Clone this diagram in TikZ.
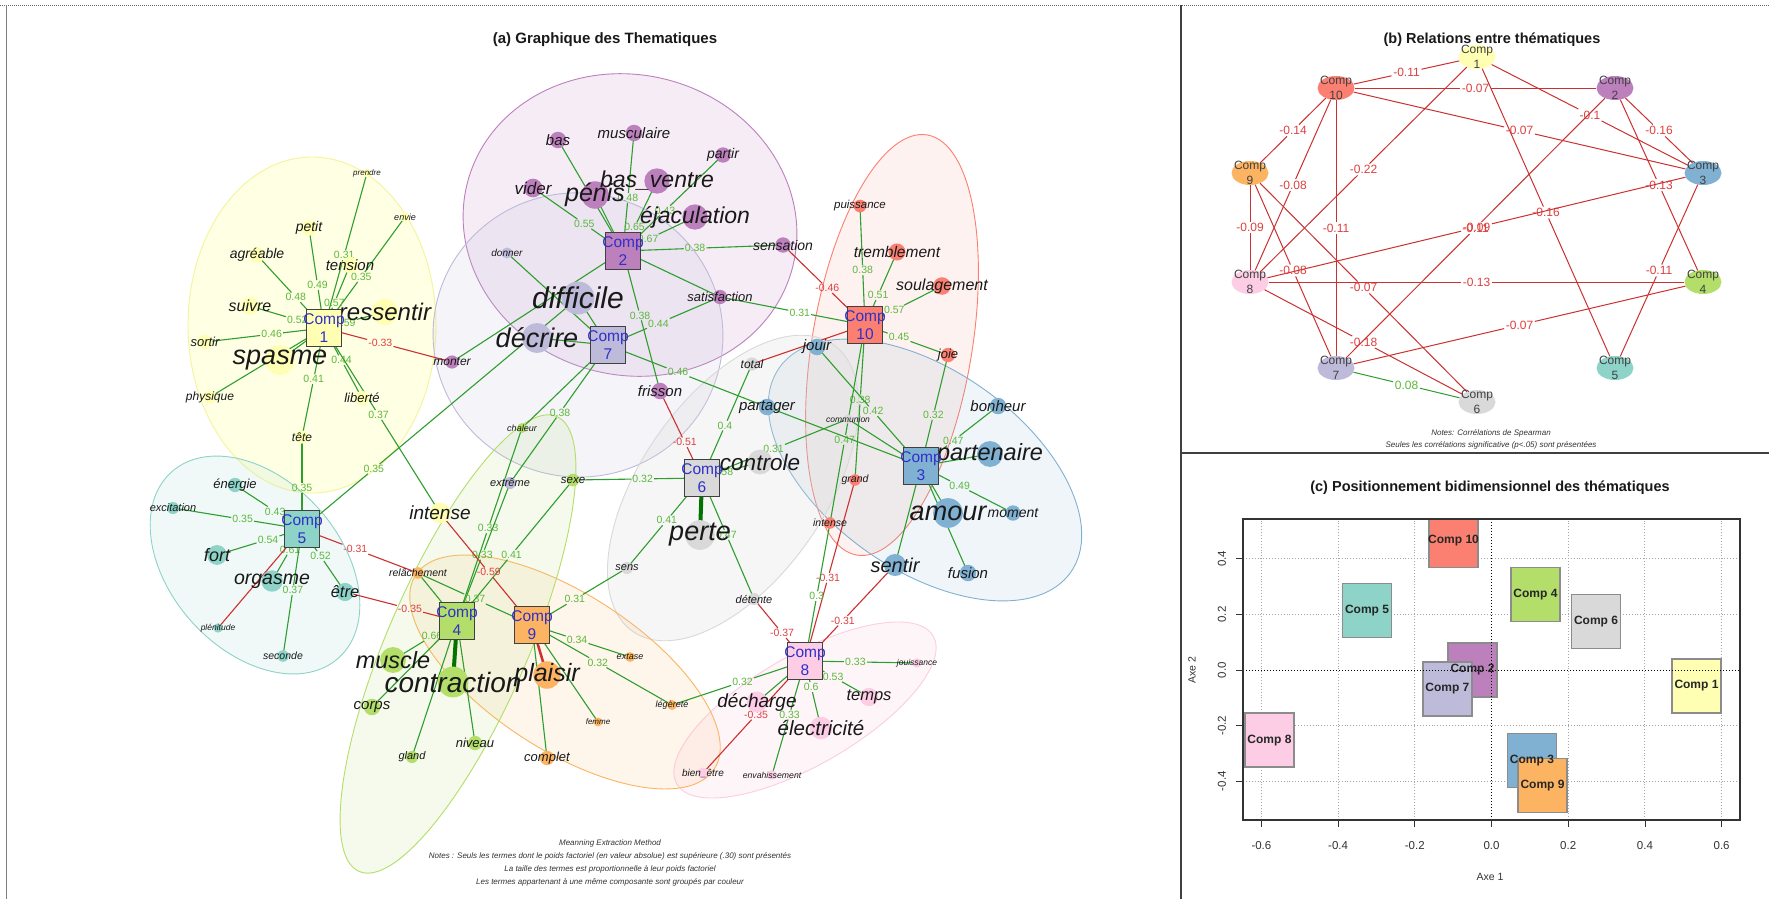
\documentclass[tikz,border=0pt]{standalone}
\usepackage{fontspec}
\setmainfont{Liberation Sans}
\usetikzlibrary{shapes.geometric}
\definecolor{c1}{HTML}{FFFFB3}
\definecolor{c2}{HTML}{BC80BD}
\definecolor{c3}{HTML}{80B1D3}
\definecolor{c4}{HTML}{B3DE69}
\definecolor{c5}{HTML}{8DD3C7}
\definecolor{c6}{HTML}{D9D9D9}
\definecolor{c7}{HTML}{BEBADA}
\definecolor{c8}{HTML}{FCCDE5}
\definecolor{c9}{HTML}{FDB462}
\definecolor{c10}{HTML}{FB8072}
\definecolor{yb}{HTML}{F4F49A}
\definecolor{gline}{HTML}{2E9E2E}
\definecolor{glab}{HTML}{5CB83C}
\definecolor{rline}{HTML}{CC3030}
\definecolor{rlab}{HTML}{DD4040}
\definecolor{bluetxt}{HTML}{3030C8}
\tikzset{
 lng/.style={gline, line width=1.1pt},
 lnr/.style={rline, line width=1.1pt},
 labg/.style={text=glab, font=\fontsize{10.5}{10.5}\selectfont, inner sep=1pt},
 labr/.style={text=rlab, font=\fontsize{10.5}{10.5}\selectfont, inner sep=1pt},
 hull/.style={line width=0.9pt, fill opacity=0.15},
 cbox/.style={draw=black!75, line width=1.1pt, minimum width=35pt, minimum height=37pt, inner sep=0pt},
 ctxt/.style={text=bluetxt, font=\fontsize{15.5}{18}\selectfont, align=center, inner sep=0pt},
 bnode/.style={ellipse, minimum width=37pt, minimum height=24pt, inner sep=0pt},
 btxt/.style={text=black!75, font=\fontsize{12}{15}\selectfont, align=center, inner sep=0pt},
 blab/.style={text=rlab, font=\fontsize{12}{12}\selectfont, inner sep=1.5pt},
 pbox/.style={draw=black!45, line width=1.2pt, minimum width=49pt, minimum height=54pt, inner sep=0pt},
 ptxt/.style={font=\bfseries\fontsize{12}{12}\selectfont, text=black!85, inner sep=0pt},
 ttl/.style={font=\bfseries\fontsize{14.5}{14.5}\selectfont, text=black!90},
 note/.style={font=\itshape\fontsize{8}{8}\selectfont, text=black!80}
}
\newcommand\lkg[4]{\path (#1) -- (#2) node[pos=#4, labg] (L-#1-#2) {#3}; \draw[lng] (#1) -- (L-#1-#2) -- (#2);}
\newcommand\lkr[4]{\path (#1) -- (#2) node[pos=#4, labr] (L-#1-#2) {#3}; \draw[lnr] (#1) -- (L-#1-#2) -- (#2);}
\newcommand\lgn[2]{\draw[lng] (#1) -- (#2);}
\newcommand\lrn[2]{\draw[lnr] (#1) -- (#2);}
\newcommand\bedge[3]{\path (P#1) -- (P#2) node[midway, blab] (E#1x#2) {#3}; \draw[rline, line width=1pt] (P#1) -- (E#1x#2) -- (P#2);}
\def\terms{prendre/367/173/8/c1/prendre, envie/405/217/9/c1/envie, petit/309/228/14/c1/petit, agreable/257/255/14/c1/agréable, tension/350/265/15/c1/tension, suivre/250/306/16/c1/suivre, ressentir/385/312/24/c1/ressentir, sortir/205/342/13/c1/sortir, spasme/280/360/27/c1/spasme, physique/210/397/12/c1/physique, liberte/362/398/13/c1/liberté, tete/302/437/12/c1/tête, intense/440/513/19/c1/intense,
bas/558/140/15/c2/bas, musculaire/634/133/15/c2/musculaire, partir/723/155/14/c2/partir, basventre/657/181/23/c2/bas\_ventre, penis/595/195/25/c2/pénis, vider/533/188/17/c2/vider, ejac/695/217/23/c2/éjaculation, sensation/783/245/14/c2/sensation, satisf/720/297/13/c2/satisfaction, frisson/660/391/15/c2/frisson, monter/452/362/12/c2/monter,
donner/507/253/10/c7/donner, difficile/578/298/30/c7/difficile, decrire/537/338/27/c7/décrire, chaleur/522/428/9/c4/chaleur, extreme/510/483/11/c7/extrême, sexe/573/480/11.5/c4/sexe,
muscle/393/660/23.5/c4/muscle, contraction/453/682/28/c4/contraction, corps/372/707/15/c4/corps, gland/412/757/11/c4/gland, niveau/475/743/13/c4/niveau,
relachement/418/573/10.5/c9/relâchement, plaisir/547/675/25/c9/plaisir, complet/547/758/13/c9/complet, femme/598/722/8/c9/femme, extase/630/657/9/c9/extase, legerete/672/705/9/c9/légèreté,
energie/235/485/13/c5/énergie, excitation/173/508/11/c5/excitation, fort/217/555/18/c5/fort, orgasme/272/581/19.5/c5/orgasme, plenitude/218/628/8.5/c5/plénitude, seconde/283/656/10.5/c5/seconde, etre/345/592/16.5/c5/être,
total/752/364/12/c6/total, controle/760/462/22.5/c6/controle, perte/700/535/27/c6/perte, sens/627/568/11/c6/sens, detente/754/599/11/c6/détente,
jouir/817/347/15/c3/jouir, partager/767/407/15/c3/partager, bonheur/998/406/15/c3/bonheur, partenaire/990/454/23.5/c3/partenaire, moment/1013/513/14/c3/moment, amour/948/513/27/c3/amour, fusion/968/573/15/c3/fusion, sentir/895/565/20/c3/sentir,
puissance/860/206/11.5/c10/puissance, tremblement/897/252/15.5/c10/tremblement, soulagement/942/286/16/c10/soulagement, joie/948/355/13/c10/joie, communion/848/419/8.5/c6/communion, grand/855/480/10.5/c10/grand, intenseb/830/523/10.5/c10/intense,
jouissance/917/663/8.5/c8/jouissance, temps/869/697/16.5/c8/temps, electricite/821/728/20.5/c8/électricité, decharge/757/702/19/c8/décharge, envahissement/772/775/8.7/c8/envahissement, bienetre/703/773/10/c8/bien\_être}
\begin{document}
\begin{tikzpicture}[x=1pt,y=-1pt]
\useasboundingbox (0,0) rectangle (1769,899);
\fill[white] (0,0) rectangle (1769,899);
% frame
\draw[black!60, dash pattern=on 1pt off 1pt] (0,5) -- (1769,5);
\draw[black!50] (6,5) -- (6,899);
\draw[black!75, line width=1.5pt] (1181,5) -- (1181,899);
\draw[black!75, line width=1.5pt] (1181,453) -- (1769,453);
% ===== panel a hulls
\path[hull, draw=yb, fill=c1, fill opacity=0.35] (312,325) ellipse [x radius=124pt, y radius=168pt];
\path[hull, draw=c2, fill=c2, rotate around={-15:(630,225)}] (630,225) ellipse [x radius=168pt, y radius=150pt];
\path[hull, draw=c7, fill=c7, rotate around={-10:(578,335)}] (578,335) ellipse [x radius=145pt, y radius=142pt];
\path[hull, draw=c10, fill=c10, fill opacity=0.1, rotate around={-9.5:(892,345)}] (892,345) ellipse [x radius=80pt, y radius=213pt];
\path[hull, draw=c3, fill=c3, fill opacity=0.12, rotate around={-35:(925,470)}] (925,470) ellipse [x radius=178pt, y radius=100pt];
\path[hull, draw=c6, fill=c6, fill opacity=0.22, rotate around={55:(733,488)}] (733,488) ellipse [x radius=175pt, y radius=92pt];
\path[hull, draw=c8, fill=c8, fill opacity=0.2, rotate around={30:(805,710)}] (805,710) ellipse [x radius=148pt, y radius=55pt];
\path[hull, draw=c9, fill=c9, fill opacity=0.12, rotate around={-33:(565,672)}] (565,672) ellipse [x radius=178pt, y radius=78pt];
\path[hull, draw=c4, fill=c4, fill opacity=0.12, rotate around={-23.5:(458,644)}] (458,644) ellipse [x radius=70pt, y radius=248pt];
\path[hull, draw=c5, fill=c5, fill opacity=0.12, rotate around={-48:(255,565)}] (255,565) ellipse [x radius=125pt, y radius=85pt];
% coordinates
\foreach \id/\x/\y/\s/\c/\t in \terms {\coordinate (\id) at (\x,\y);}
\coordinate (C1) at (324,328); \coordinate (C2) at (623,251); \coordinate (C7) at (608,345);
\coordinate (C10) at (865,325); \coordinate (C3) at (921,466); \coordinate (C6) at (702,478);
\coordinate (C8) at (805,661); \coordinate (C4) at (457,621); \coordinate (C9) at (532,625);
\coordinate (C5) at (302,529);
% connections C1
\lkg{prendre}{C1}{0.31}{0.53} \lkg{envie}{C1}{0.35}{0.54} \lkg{petit}{C1}{0.49}{0.57}
\lkg{agreable}{C1}{0.48}{0.58} \lkg{tension}{C1}{0.57}{0.6} \lkg{suivre}{C1}{0.52}{0.64}
\lkg{ressentir}{C1}{0.59}{0.65} \lgn{spasme}{C1} \lgn{physique}{C1}
\lkg{sortir}{C1}{0.46}{0.56} \lkg{liberte}{C1}{0.44}{0.54} \lkg{tete}{C1}{0.41}{0.53}
\lkg{intense}{C1}{0.37}{0.53} \lkr{monter}{C1}{-0.33}{0.56}
% C5
\lkg{tete}{C5}{0.35}{0.55} \lkg{energie}{C5}{0.43}{0.6} \lkg{excitation}{C5}{0.35}{0.54}
\lkg{fort}{C5}{0.54}{0.6} \lkg{orgasme}{C5}{0.61}{0.6} \lrn{plenitude}{C5}
\lkg{seconde}{C5}{0.37}{0.52} \lkg{etre}{C5}{0.52}{0.57} \lkg{difficile}{C5}{0.35}{0.74}
\lkr{relachement}{C5}{-0.31}{0.54}
% C4
\lkg{chaleur}{C4}{0.33}{0.52} \lkg{extreme}{C4}{0.33}{0.52} \lkg{sexe}{C4}{0.41}{0.53}
\lkr{etre}{C4}{-0.35}{0.58} \lkg{muscle}{C4}{0.66}{0.61}
\draw[green!45!black, line width=4pt] (contraction) -- (C4);
\lgn{corps}{C4} \lgn{gland}{C4} \lgn{niveau}{C4} \lgn{relachement}{C4}
% C9
\lkr{intense}{C9}{-0.59}{0.53} \lkg{relachement}{C9}{0.37}{0.5} \lkg{sens}{C9}{0.31}{0.55}
\lkg{extase}{C9}{0.34}{0.54} \lkg{legerete}{C9}{0.32}{0.53} \lgn{femme}{C9} \lgn{complet}{C9}
\draw[rline, line width=2.5pt] (plaisir) -- (C9);
% C6
\lkr{frisson}{C6}{-0.51}{0.59} \lkg{total}{C6}{0.4}{0.54} \lkg{controle}{C6}{0.58}{0.64}
\draw[green!45!black, line width=4pt] (perte) -- (C6);
\lkg{sens}{C6}{0.41}{0.53} \lkg{detente}{C6}{0.47}{0.53} \lkg{sexe}{C6}{0.32}{0.54}
\lkg{communion}{C6}{0.31}{0.51}
% C7
\lgn{difficile}{C7} \lgn{decrire}{C7} \lgn{donner}{C7} \lkg{satisf}{C7}{0.44}{0.55}
\lkg{partager}{C7}{0.46}{0.56} \lkg{extreme}{C7}{0.38}{0.51} \lgn{chaleur}{C7}
% C2
\lgn{bas}{C2} \lkg{musculaire}{C2}{0.48}{0.55} \lkg{partir}{C2}{0.43}{0.58}
\lkg{basventre}{C2}{0.65}{0.66} \lgn{penis}{C2} \lkg{vider}{C2}{0.55}{0.57}
\lkg{ejac}{C2}{0.67}{0.65} \lkg{sensation}{C2}{0.38}{0.55} \lgn{satisf}{C2}
\lkg{frisson}{C2}{0.38}{0.54} \lgn{monter}{C2}
% C10
\lkg{puissance}{C10}{0.38}{0.54} \lkg{tremblement}{C10}{0.51}{0.59} \lkg{soulagement}{C10}{0.57}{0.62}
\lkg{joie}{C10}{0.45}{0.59} \lkr{sensation}{C10}{-0.46}{0.54} \lkg{satisf}{C10}{0.31}{0.55}
\lrn{total}{C10} \lkg{grand}{C10}{0.38}{0.52} \lkg{intenseb}{C10}{0.47}{0.42}
% C3
\lkg{jouir}{C3}{0.42}{0.54} \lgn{partager}{C3} \lgn{communion}{C3} \lkg{joie}{C3}{0.32}{0.54}
\lkg{bonheur}{C3}{0.47}{0.58} \lgn{partenaire}{C3} \lkg{moment}{C3}{0.49}{0.58}
\lgn{amour}{C3} \lgn{fusion}{C3} \lgn{sentir}{C3}
% C8
\lkg{jouissance}{C8}{0.33}{0.55} \lkg{temps}{C8}{0.53}{0.56} \lkg{electricite}{C8}{0.6}{0.61}
\lgn{decharge}{C8} \lkg{envahissement}{C8}{0.33}{0.53} \lkr{bienetre}{C8}{-0.35}{0.52}
\lkg{legerete}{C8}{0.32}{0.53} \lkr{detente}{C8}{-0.37}{0.55} \lkr{grand}{C8}{-0.31}{0.54}
\lkr{sentir}{C8}{-0.31}{0.58} \lkg{intenseb}{C8}{0.3}{0.53}
% dots and words
\foreach \id/\x/\y/\s/\c/\t in \terms {\fill[\c] (\x,\y) circle[radius={0.55*\s pt}];}
\foreach \id/\x/\y/\s/\c/\t in \terms {\node[font=\itshape\fontsize{\s}{\s}\selectfont, text=black!90, inner sep=0pt] at (\x,\y) {\t};}
% component boxes
\foreach \n/\c in {1/c1,2/c2,3/c3,4/c4,5/c5,6/c6,7/c7,8/c8,9/c9,10/c10} {
  \node[cbox, fill=\c] (B\n) at (C\n) {};
  \node[ctxt] at (C\n) {Comp\\\n};
}
% titles & notes a
\node[ttl, font=\bfseries\fontsize{15}{15}\selectfont] (ta) at (605,40) {(a) Graphique des Thematiques};
\node[note, align=center, font=\itshape\fontsize{8}{13}\selectfont] (na) at (610,863) {Meanning Extraction Method\\Notes : Seuls les termes dont le poids factoriel (en valeur absolue) est supérieure (.30) sont présentés\\La taille des termes est proportionnelle à leur poids factoriel\\Les termes appartenant à une même composante sont groupés par couleur};
% ===== panel b
\node[ttl] (tb) at (1492,40) {(b) Relations entre thématiques};
\foreach \n/\x/\y/\c in {1/1477/57/c1, 2/1615/88/c2, 3/1703/173/c3, 4/1703/282/c4, 5/1615/368/c5, 6/1477/402/c6, 7/1336/368/c7, 8/1250/282/c8, 9/1250/173/c9, 10/1336/88/c10}
  {\node[bnode, fill=\c] (P\n) at (\x,\y) {};}
\bedge{1}{10}{-0.11} \bedge{10}{2}{-0.07} \bedge{10}{3}{-0.07} \bedge{1}{3}{-0.1}
\bedge{2}{3}{-0.16} \bedge{2}{4}{-0.13} \bedge{1}{5}{-0.16} \bedge{3}{5}{-0.11}
\bedge{3}{8}{-0.09} \bedge{2}{7}{-0.11} \bedge{8}{4}{-0.13} \bedge{4}{7}{-0.07}
\bedge{1}{8}{-0.22} \bedge{10}{9}{-0.14} \bedge{10}{8}{-0.08} \bedge{10}{7}{-0.11}
\bedge{9}{8}{-0.09} \bedge{9}{7}{-0.08} \bedge{9}{6}{-0.07} \bedge{8}{6}{-0.18}
\path (P7) -- (P6) node[midway, blab, text=glab] (E7x6) {0.08};
\draw[gline, line width=1pt] (P7) -- (E7x6) -- (P6);
\foreach \n in {1,...,10} {\node[btxt] at (P\n) {Comp\\\n};}
\node[note, align=center, font=\itshape\fontsize{8}{12}\selectfont] (nb) at (1491,439) {Notes: Corrélations de Spearman\\Seules les corrélations significative (p<.05) sont présentées};
% ===== panel c
\node[ttl] (tc) at (1490,488) {(c) Positionnement bidimensionnel des thématiques};
\begin{scope}[shift={(1491.5pt,-670pt)}, x=383.5pt, y=278pt]
  \foreach \v in {-0.6,-0.4,-0.2,0.2,0.4,0.6} \draw[black!35, dotted, line width=0.9pt] (\v,-0.54) -- (\v,0.543);
  \foreach \v in {-0.4,-0.2,0.2,0.4} \draw[black!35, dotted, line width=0.9pt] (-0.648,\v) -- (0.648,\v);
  \begin{scope}
    \clip (-0.648,-0.54) rectangle (0.648,0.543);
    \foreach \n/\x/\y/\c in {10/-0.099/0.465/c10, 4/0.1145/0.272/c4, 6/0.2725/0.1745/c6, 5/-0.3245/0.214/c5, 2/-0.0495/0/c2, 7/-0.115/-0.068/c7, 1/0.5345/-0.0575/c1, 8/-0.579/-0.252/c8, 3/0.1055/-0.3255/c3, 9/0.133/-0.414/c9}
      {\node[pbox, fill=\c] (Q\n) at (\x,\y) {};}
    \foreach \n in {10,4,6,5,2,7,1,8,3,9} {\node[ptxt] at (Q\n) {Comp \n};}
  \end{scope}
  \draw[black, dotted, line width=1pt] (0,-0.54) -- (0,0.543);
  \draw[black, dotted, line width=1pt] (-0.648,0) -- (0.648,0);
  \draw[black!80, line width=1.6pt] (-0.648,-0.54) rectangle (0.648,0.543);
  \foreach \v/\l in {-0.6/-0.6,-0.4/-0.4,-0.2/-0.2,0/0.0,0.2/0.2,0.4/0.4,0.6/0.6} {
    \draw[black!80, line width=0.8pt] (\v,-0.54) -- ++(0,-7pt);
    \path (\v,-0.54) ++(0,-25pt) node[font=\fontsize{11.5}{11.5}\selectfont, text=black!80] {\l};}
  \foreach \v/\l in {-0.4/-0.4,-0.2/-0.2,0/0.0,0.2/0.2,0.4/0.4} {
    \draw[black!80, line width=0.8pt] (-0.648,\v) -- ++(-7pt,0);
    \path (-0.648,\v) ++(-21pt,0) node[font=\fontsize{11.5}{11.5}\selectfont, text=black!80, rotate=90] {\l};}
\end{scope}
\node[font=\fontsize{10.5}{10.5}\selectfont, text=black!80] (ax1) at (1490,877) {Axe 1};
\node[font=\fontsize{10.5}{10.5}\selectfont, text=black!80, rotate=90] (ax2) at (1192,670) {Axe 2};
\end{tikzpicture}
\end{document}
